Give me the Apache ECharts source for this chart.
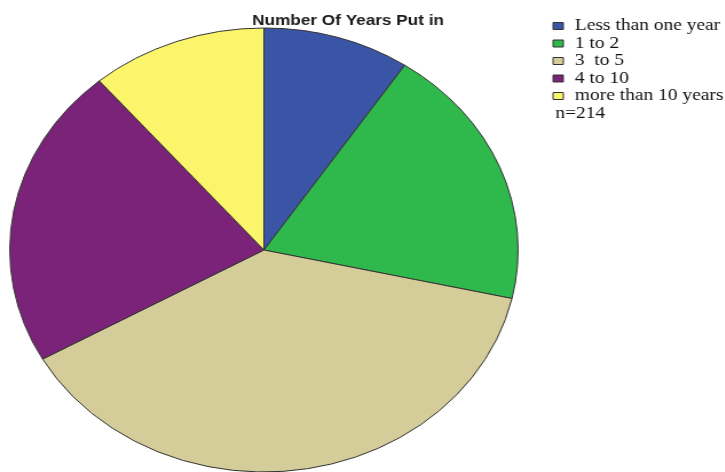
<!DOCTYPE html>
<html>
<head>
<meta charset="utf-8">
<script src="https://cdn.jsdelivr.net/npm/echarts@6/dist/echarts.min.js"></script>
<style>
  html, body { margin: 0; padding: 0; background: #fff; }
  #wrap { position: relative; width: 725px; height: 472px; overflow: hidden; }
  /* the original picture is stretched sideways, so the whole chart is too */
  #chart { position: absolute; left: 0; top: 0; width: 633px; height: 472px;
           transform: scaleX(1.145); transform-origin: 0 0; }
</style>
</head>
<body>
<div id="wrap">
  <div id="chart"></div>
</div>
<script>
var categories = ['Less than one year', '1 to 2', '3  to 5', '4 to 10', 'more than 10 years'];
var counts = [20, 41, 82, 47, 24];
var colors = ['#3b55a6', '#2fb84c', '#d4cd99', '#7b2378', '#fbf56b'];
var chartTitle = 'Number Of Years Put in';
var sampleNote = 'n=214';

var pieData = categories.map(function (name, i) {
    return { name: name, value: counts[i] };
});

var serif = 'Liberation Serif';

// legend key drawn by hand so it keeps the serif face of the original
var keyTop = 26, keyStep = 17.5;
var legendKey = [];
categories.forEach(function (name, i) {
    var y = keyTop + keyStep * i;
    legendKey.push({
        type: 'rect',
        shape: { x: 483, y: y - 3.5, width: 9, height: 7 },
        style: { fill: colors[i], stroke: '#333', lineWidth: 1 }
    });
    legendKey.push({
        type: 'text',
        x: 502,
        y: y,
        style: { text: name, fontFamily: serif, fontSize: 17, fill: '#111', verticalAlign: 'middle' }
    });
});
legendKey.push({
    type: 'text',
    x: 485,
    y: keyTop + keyStep * categories.length,
    style: { text: sampleNote, fontFamily: serif, fontSize: 17, fill: '#111', verticalAlign: 'middle' }
});

var chart = echarts.init(document.getElementById('chart'));
chart.setOption({
    animation: false,
    color: colors,
    title: {
        text: chartTitle,
        left: 299,
        top: 8,
        textAlign: 'center',
        textStyle: { fontFamily: 'Liberation Sans', fontSize: 15, fontWeight: 'bold', color: '#1a1a1a' }
    },
    graphic: legendKey,
    series: [
        {
            type: 'pie',
            center: [230.5, 250],
            radius: 222,
            startAngle: 90,
            clockwise: true,
            label: { show: false },
            labelLine: { show: false },
            itemStyle: { borderColor: '#333', borderWidth: 1 },
            data: pieData
        }
    ]
});

window.onresize = function () {
    chart.resize();
};
</script>
</body>
</html>
